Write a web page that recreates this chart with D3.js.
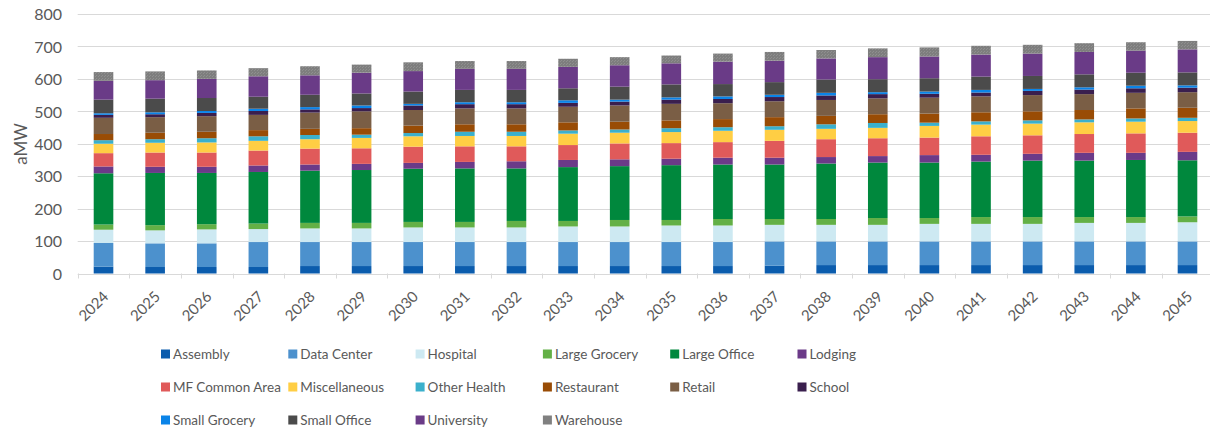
<!DOCTYPE html>
<html>
<head>
<meta charset="utf-8">
<script src="https://cdn.jsdelivr.net/npm/d3@7"></script>
<style>
  html, body { margin: 0; padding: 0; background: #fff; }
  svg text { font-family: Lato, "Open Sans", sans-serif; fill: #595959; }
</style>
</head>
<body>
<svg id="chart" width="1210" height="434"></svg>
<script>
const years = ["2024","2025","2026","2027","2028","2029","2030","2031","2032","2033","2034",
               "2035","2036","2037","2038","2039","2040","2041","2042","2043","2044","2045"];
const yTicks = [0, 100, 200, 300, 400, 500, 600, 700, 800];

const assembly     = [21,20,20,20,23,23,23,23,23,23,23,23,23,24,26,26,26,26,26,26,26,26];
const dataCenter   = [73,73,73,77,74,74,74,74,74,74,74,74,74,75,73,73,73,73,73,73,73,73];
const hospital     = [41,40,43,40,42,42,45,45,45,48,48,51,51,51,51,51,54,54,54,57,57,59];
const largeGrocery = [16,16,16,17,17,17,17,17,20,17,20,17,20,18,18,21,18,21,21,18,18,18];
const largeOffice  = [158,161,158,159,161,163,164,165,162,166,166,169,168,168,171,171,171,171,174,174,176,173];
const lodging      = [21,19,19,20,19,19,18,20,22,22,21,20,21,21,20,20,23,21,21,24,22,26];
const mfCommon     = [41,44,44,46,49,48,50,48,46,46,49,48,48,52,55,55,54,57,57,58,60,59];
const miscellaneous= [29,30,31,30,29,32,32,32,32,35,33,34,35,34,32,32,36,36,36,36,36,36];
const otherHealth  = [11,11,13,14,13,10,10,13,13,10,10,12,11,11,14,15,10,10,10,9,10,10];
const restaurant   = [19,20,20,19,19,20,23,23,23,25,24,24,25,28,26,27,28,28,28,29,31,31];
const retail       = [50,48,48,47,50,52,48,49,49,48,50,51,49,49,49,49,49,49,50,49,48,48];
const school       = [9,9,10,12,10,10,14,13,13,12,12,13,13,13,14,13,12,12,13,14,14,14];
const smallGrocery = [5,6,6,7,7,8,5,6,6,8,6,7,8,7,8,6,7,8,6,7,8,7];
const smallOffice  = [42,42,40,37,38,37,38,38,38,37,40,40,38,39,41,40,41,41,40,40,40,40];
const university   = [58,57,59,63,60,64,63,65,65,66,66,65,69,66,65,68,67,68,69,69,68,71];
const warehouse    = [27,27,26,25,28,25,27,24,24,25,25,24,25,27,26,27,28,27,27,27,26,26];

const seriesNames = ["Assembly","Data Center","Hospital","Large Grocery","Large Office","Lodging",
  "MF Common Area","Miscellaneous","Other Health","Restaurant","Retail","School",
  "Small Grocery","Small Office","University","Warehouse"];
const seriesValues = [assembly, dataCenter, hospital, largeGrocery, largeOffice, lodging,
  mfCommon, miscellaneous, otherHealth, restaurant, retail, school,
  smallGrocery, smallOffice, university, warehouse];
const seriesColors = ["#0B5CAD","#4C91CD","#CDE9F2","#63B046","#00883D","#6B3A88",
  "#E05A5A","#FFCE44","#3BB0CC","#994C05","#7A5E45","#3A1F4E",
  "#0A84E8","#4B4B4B","#6A3B87","url(#whPattern)"];
const legendColors = seriesColors.slice(0, 15).concat(["#808080"]);

const svg = d3.select("#chart");

// subtle texture for warehouse
const defs = svg.append("defs");
const pat = defs.append("pattern").attr("id", "whPattern")
  .attr("patternUnits", "userSpaceOnUse").attr("width", 3).attr("height", 3);
pat.append("rect").attr("width", 3).attr("height", 3).attr("fill", "#7E7E7E");
pat.append("rect").attr("x", 0).attr("y", 0).attr("width", 1).attr("height", 1).attr("fill", "#8F8F8F");
pat.append("rect").attr("x", 2).attr("y", 1).attr("width", 1).attr("height", 1).attr("fill", "#8F8F8F");

const plotLeft = 77.7, plotRight = 1213.3, plotTop = 14, plotBottom = 273.5;

const x = d3.scaleBand().domain(years).range([plotLeft, plotRight])
  .paddingInner(0.62).paddingOuter(0.31);
const y = d3.scaleLinear().domain([0, 800]).range([plotBottom, plotTop]);

// gridlines
svg.append("g").selectAll("line").data(yTicks.filter(d => d > 0)).join("line")
  .attr("x1", plotLeft).attr("x2", plotRight)
  .attr("y1", d => Math.round(y(d)) + 0.5).attr("y2", d => Math.round(y(d)) + 0.5)
  .attr("stroke", "#D9D9D9").attr("stroke-width", 1);

// y axis labels
const yAxis = d3.axisLeft(y).tickValues(yTicks).tickSize(0).tickPadding(0);
const gy = svg.append("g").attr("transform", `translate(62,0)`).call(yAxis);
gy.select(".domain").remove();
gy.selectAll("text").style("font-size", "16px").style("font-family", "Lato, sans-serif")
  .attr("fill", "#595959").attr("dy", "0.36em");

// y title
svg.append("text").attr("transform", `translate(27,144) rotate(-90)`)
  .attr("text-anchor", "middle").style("font-size", "17px").text("aMW");

// stacked data
const table = years.map((yr, i) => {
  const o = { year: yr };
  seriesNames.forEach((n, k) => o[n] = seriesValues[k][i]);
  return o;
});
const stack = d3.stack().keys(seriesNames)(table);

svg.append("g").selectAll("g").data(stack).join("g")
  .attr("fill", (d, i) => seriesColors[i])
  .selectAll("rect").data(d => d).join("rect")
  .attr("x", d => x(d.data.year))
  .attr("width", x.bandwidth())
  .attr("y", d => y(d[1]))
  .attr("height", d => y(d[0]) - y(d[1]));

// x axis
const step = x.step();
svg.append("line").attr("x1", plotLeft).attr("x2", plotRight)
  .attr("y1", Math.round(plotBottom) + 0.5).attr("y2", Math.round(plotBottom) + 0.5)
  .attr("stroke", "#D9D9D9");
svg.append("g").selectAll("line").data(d3.range(years.length + 1)).join("line")
  .attr("x1", i => Math.round(plotLeft + i * step) + 0.5)
  .attr("x2", i => Math.round(plotLeft + i * step) + 0.5)
  .attr("y1", plotBottom).attr("y2", plotBottom + 5)
  .attr("stroke", "#D9D9D9");

svg.append("g").selectAll("text").data(years).join("text")
  .attr("transform", d => `translate(${x(d) + x.bandwidth() / 2 + 6},${plotBottom + 24}) rotate(-45)`)
  .attr("text-anchor", "end").style("font-size", "15px").text(d => d);

// legend
const legCols = 6, colW = 127.3, legX0 = 161, rowY = [354, 387, 420];
const leg = svg.append("g").selectAll("g").data(seriesNames).join("g")
  .attr("transform", (d, i) => `translate(${legX0 + (i % legCols) * colW},${rowY[Math.floor(i / legCols)]})`);
leg.append("rect").attr("x", 0).attr("y", -4.5).attr("width", 9).attr("height", 9)
  .attr("fill", (d, i) => legendColors[i]);
leg.append("text").attr("x", 12).attr("y", 0).attr("dy", "0.36em")
  .style("font-size", "13.5px").text(d => d);
</script>
</body>
</html>
